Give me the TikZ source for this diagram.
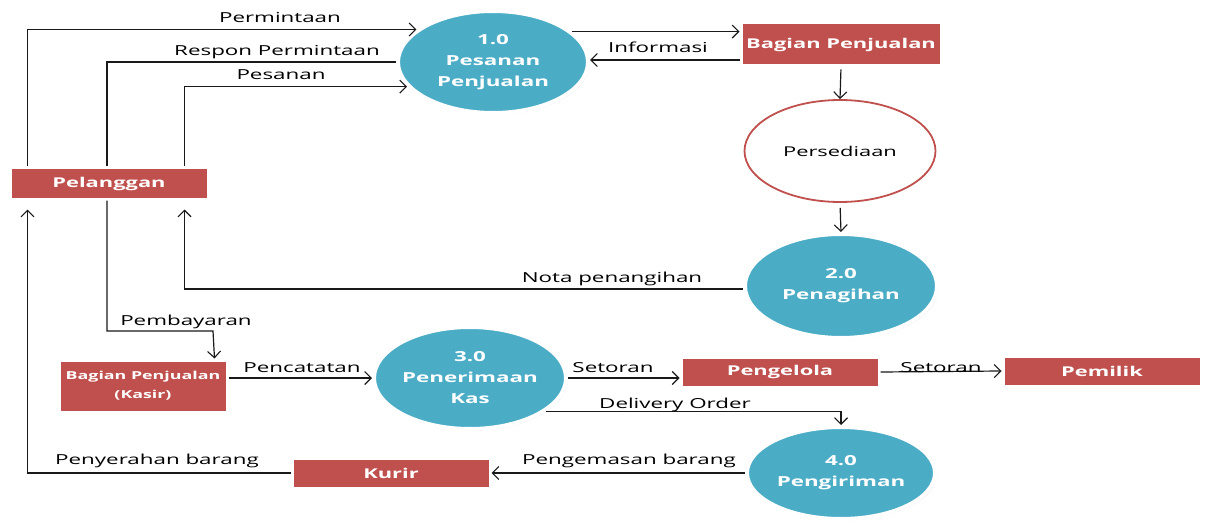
\documentclass[tikz,border=0pt]{standalone}
\usepackage{fontspec}
\setmainfont{Open Sans}[FakeStretch=1.62]
\usetikzlibrary{shapes.geometric,shadows,arrows.meta}
\definecolor{procblue}{HTML}{4BACC6}
\definecolor{entred}{HTML}{C0504D}
\tikzset{
  entity/.style={rectangle, fill=entred, draw=white, line width=3pt, text=white,
    font=\fontsize{13.5}{16}\selectfont\bfseries, inner sep=0pt,
    drop shadow={opacity=0.3, shadow xshift=1.5pt, shadow yshift=-1.5pt}},
  proc/.style={ellipse, fill=procblue, draw=white, line width=4pt, text=white,
    font=\fontsize{13.8}{21}\selectfont\bfseries, inner sep=0pt, align=center,
    drop shadow={opacity=0.3, shadow xshift=1.5pt, shadow yshift=-1.5pt}},
  store/.style={ellipse, fill=white, draw=entred, line width=1.8pt, text=black,
    font=\fontsize{13.5}{16}\selectfont, inner sep=0pt},
  flow/.style={draw=black!90, line width=1.2pt, -{Straight Barb[length=6.5pt,width=13pt,line width=1.1pt]}},
  plain/.style={draw=black!90, line width=1.2pt},
  lbl/.style={font=\fontsize{13.8}{16}\selectfont, text=black, inner sep=0pt},
}
\begin{document}
\begin{tikzpicture}[x=1pt,y=-1pt]
\useasboundingbox (0,0) rectangle (1205,524);
% entities
\node[entity, minimum width=198pt, minimum height=31pt] (pel) at (109,183.5) {Pelanggan};
\node[entity, minimum width=200pt, minimum height=43pt] (bp) at (841,44.5) {Bagian Penjualan};
\node[entity, minimum width=168pt, minimum height=52pt, align=center,
  font=\fontsize{11}{19}\selectfont\bfseries] (kas) at (143,386) {Bagian Penjualan\\(Kasir)};
\node[entity, minimum width=198pt, minimum height=30pt] (peng) at (780,372) {Pengelola};
\node[entity, minimum width=198pt, minimum height=30pt] (pem) at (1102,371) {Pemilik};
\node[entity, minimum width=198pt, minimum height=30pt] (kur) at (391,473) {Kurir};
% processes
\node[proc, minimum width=190pt, minimum height=102pt] (p1) at (493,62) {1.0\\Pesanan\\Penjualan};
\node[store, minimum width=191pt, minimum height=102pt] (pers) at (840,151) {Persediaan};
\node[proc, minimum width=192pt, minimum height=104pt] (p2) at (841,286) {2.0\\Penagihan};
\node[proc, minimum width=186pt, minimum height=102pt] (p3) at (470,378) {3.0\\Penerimaan\\Kas};
\node[proc, minimum width=188pt, minimum height=92pt] (p4) at (841,473) {4.0\\Pengiriman};
% flows
\draw[flow] ([xshift=19pt]pel.north west) |- (p1.157.5);
\draw[plain] (p1.west) -| ([xshift=-2pt]pel.north);
\draw[flow] ([xshift=-25pt]pel.north east) |- (p1.196.8);
\draw[flow] (p1.21.3) -- (p1.21.3 -| bp.west);
\draw[flow] ([yshift=-15.5pt]bp.west) -- ([yshift=-15.5pt]bp.west -| p1.east);
\draw[flow, shorten <=2pt] (bp.south) -- (pers.north);
\draw[flow, shorten <=5pt] (pers.south) -- (p2.north);
\draw[flow, shorten >=9pt] ([yshift=-3pt]p2.west) -| ([xshift=-25pt]pel.south east);
\coordinate (pb) at (213,331);
\draw[flow] ([xshift=-2pt]pel.south) |- (pb) -- ([xshift=-14pt]kas.north east);
\draw[flow] (p3.west -| kas.east) -- (p3.west);
\draw[flow] (p3.east) -- (p3.east -| peng.west);
\draw[flow] (peng.east) -- (pem.west);
\draw[flow] (p3.336.2) -| (p4.north);
\draw[flow] (p4.west) -- (p4.west -| kur.east);
\draw[flow, shorten >=9pt] (kur.west) -| ([xshift=19pt]pel.south west);
% labels
\node[lbl] (l1) at (280,18) {Permintaan};
\node[lbl] (l2) at (277,52) {Respon Permintaan};
\node[lbl] (l3) at (281,75) {Pesanan};
\node[lbl] (l4) at (658,47) {Informasi};
\node[lbl] (l5) at (612,279) {Nota penangihan};
\node[lbl] (l6) at (186,322) {Pembayaran};
\node[lbl] (l7) at (302,368) {Pencatatan};
\node[lbl] (l8) at (613,368) {Setoran};
\node[lbl] (l9) at (941,368) {Setoran};
\node[lbl] (l10) at (675,405) {Delivery Order};
\node[lbl] (l11) at (629,461) {Pengemasan barang};
\node[lbl] (l12) at (157,461) {Penyerahan barang};
\end{tikzpicture}
\end{document}
